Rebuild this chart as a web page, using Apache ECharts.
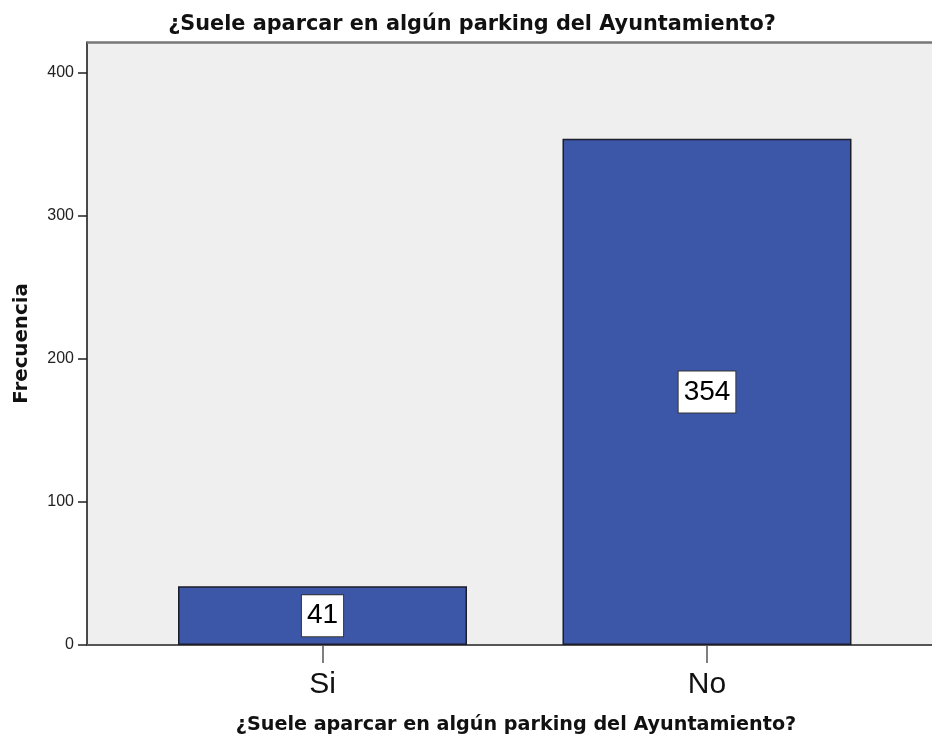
<!DOCTYPE html>
<html>
<head>
<meta charset="utf-8">
<script src="https://cdn.jsdelivr.net/npm/echarts@6/dist/echarts.min.js"></script>
<style>
  html, body { margin: 0; padding: 0; background: #ffffff; }
  #chart { width: 932px; height: 740px; }
</style>
</head>
<body>
<div id="chart"></div>
<script>
// Survey answers and their counts
const categories = ['Si', 'No'];
const frequencies = [41, 354];
const yTicks = [0, 100, 200, 300, 400];
const chartTitle = '¿Suele aparcar en algún parking del Ayuntamiento?';
const xTitle = '¿Suele aparcar en algún parking del Ayuntamiento?';
const yTitle = 'Frecuencia';

const wide = '"DejaVu Sans", "Liberation Sans", Arial, sans-serif';
const regular = '"Liberation Sans", Arial, sans-serif';

// Category positions on a numeric axis so the bars can sit off-centre in the frame
const barData = categories.map((c, i) => [i, frequencies[i]]);
const catIndex = categories.map((c, i) => i);
const yMax = 421.7;

const chart = echarts.init(document.getElementById('chart'));
chart.setOption({
  animation: false,
  backgroundColor: '#ffffff',
  title: {
    text: chartTitle,
    left: 467,
    top: 9,
    textAlign: 'center',
    textStyle: { fontFamily: wide, fontWeight: 'bold', fontSize: 20.8, color: '#111' }
  },
  grid: {
    left: 87, top: 42, bottom: 95, right: -13,
    outerBoundsMode: 'none',
    containLabel: false,
    show: true,
    backgroundColor: '#efefef',
    borderWidth: 0
  },
  xAxis: {
    type: 'value',
    min: -0.6125,
    max: 1.619,
    name: xTitle,
    nameLocation: 'middle',
    nameGap: 71,
    nameTextStyle: { fontFamily: wide, fontWeight: 'bold', fontSize: 19.2, color: '#111' },
    axisLine: { show: true, onZero: false, lineStyle: { color: '#555', width: 2 } },
    axisTick: {
      show: true, length: 18, customValues: catIndex,
      lineStyle: { color: '#555', width: 1.5 }
    },
    axisLabel: {
      customValues: catIndex,
      formatter: v => categories[Math.round(v)] || '',
      fontFamily: regular, fontSize: 30, color: '#111', margin: 25
    },
    splitLine: { show: false }
  },
  yAxis: {
    type: 'value',
    min: 0,
    max: yMax,
    name: yTitle,
    nameLocation: 'middle',
    nameGap: 55,
    nameTextStyle: { fontFamily: wide, fontWeight: 'bold', fontSize: 19.8, color: '#111' },
    axisLine: { show: true, onZero: false, lineStyle: { color: '#111', width: 1.5 } },
    axisTick: { show: true, length: 9, customValues: yTicks, lineStyle: { color: '#222', width: 1.5 } },
    axisLabel: {
      customValues: yTicks,
      fontFamily: regular, fontSize: 16, color: '#222', margin: 13
    },
    splitLine: { show: false }
  },
  series: [
    {
      type: 'bar',
      data: barData,
      barWidth: 289,
      itemStyle: { color: '#3d57a8', borderColor: '#1c1c2a', borderWidth: 1.5 },
      label: {
        show: true,
        position: 'inside',
        formatter: p => String(p.value[1]),
        fontFamily: regular,
        fontSize: 28,
        color: '#000',
        backgroundColor: '#ffffff',
        borderColor: '#333',
        borderWidth: 1,
        padding: [7, 5, 6, 5]
      }
    },
    {
      // Frame border along the top of the plot
      type: 'line',
      data: [],
      markLine: {
        silent: true,
        symbol: 'none',
        label: { show: false },
        lineStyle: { color: '#777', width: 2.5, type: 'solid' },
        data: [{ yAxis: yMax }]
      }
    }
  ]
});
</script>
</body>
</html>
